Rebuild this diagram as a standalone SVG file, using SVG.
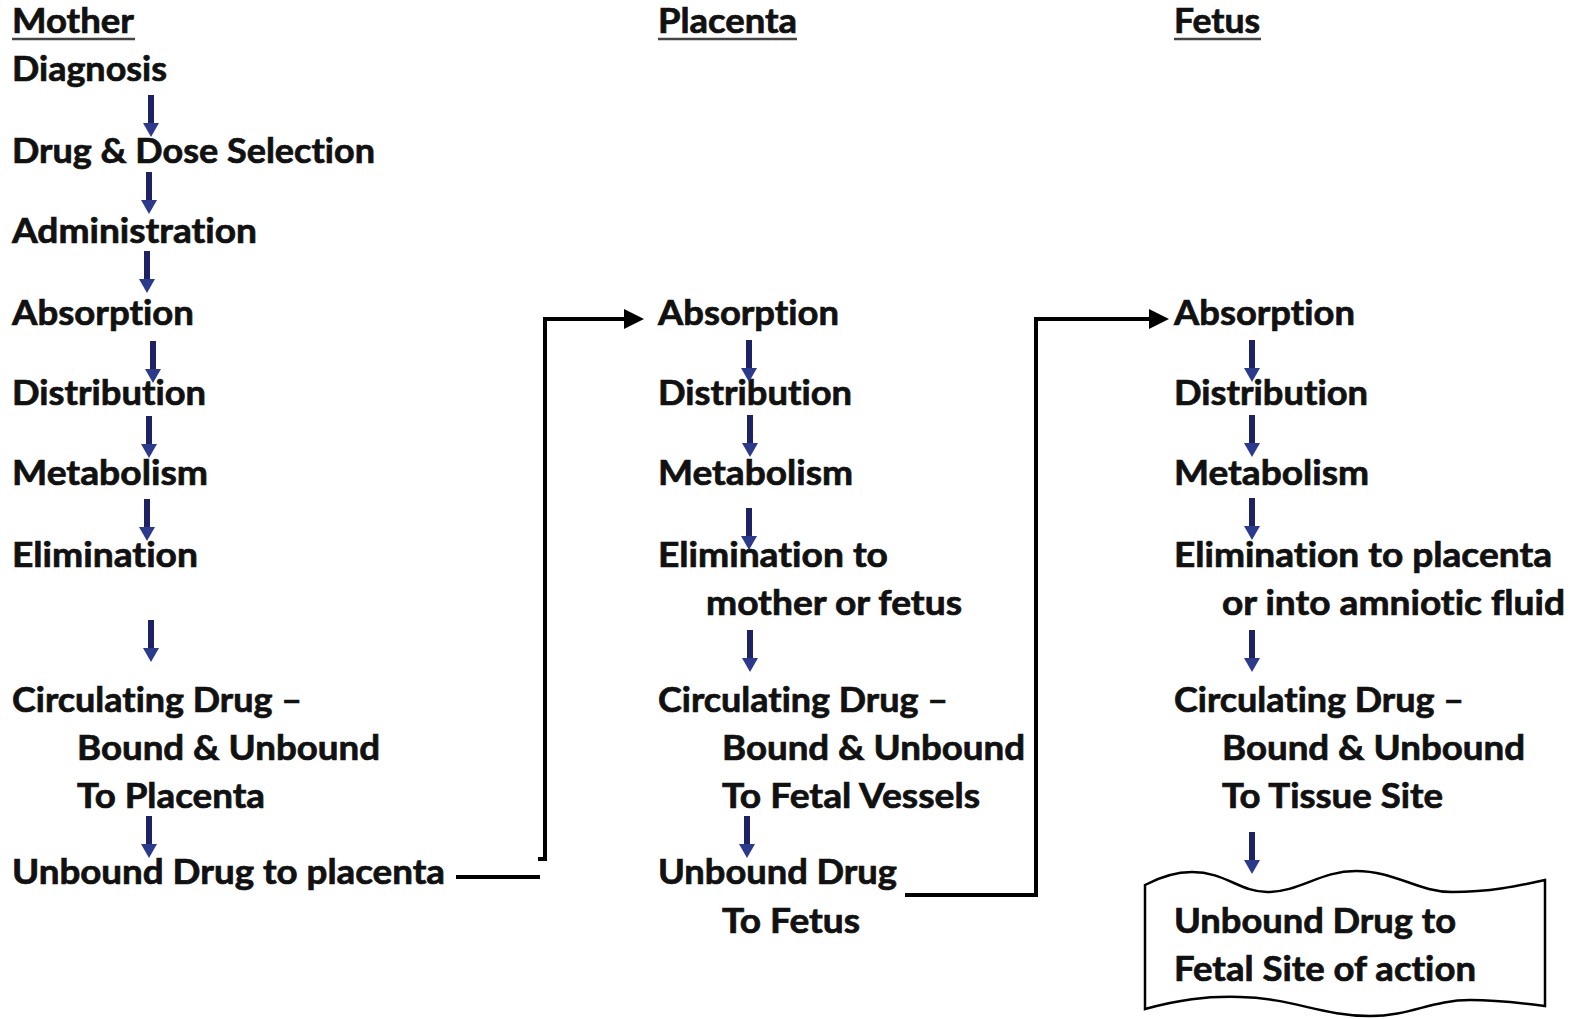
<svg xmlns="http://www.w3.org/2000/svg" xmlns:xlink="http://www.w3.org/1999/xlink" width="1575" height="1019" viewBox="0 0 1575 1019">
<style>
text{font-family:Lato,"Open Sans","Liberation Sans",sans-serif;font-weight:700;font-size:34px;fill:#111;stroke:#111;stroke-width:0.7;font-variant-ligatures:none;font-feature-settings:"liga" 0,"clig" 0}
.ul{stroke:#444;stroke-width:2.5}
.conn{fill:none;stroke:#000;stroke-width:4}
</style>
<defs>
<g id="darr">
<rect x="-3" y="0" width="6" height="30" fill="#1c2262"/>
<polygon points="-8,28 8,28 0,42" fill="#2c3a8e"/>
</g>
<marker id="ah" markerWidth="5" markerHeight="5" refX="0.5" refY="2.5" orient="auto" markerUnits="strokeWidth" viewBox="0 0 5 5">
<polygon points="0,0 5,2.5 0,5" fill="#000"/>
</marker>
</defs>
<rect width="1575" height="1019" fill="#fff"/>

<g id="mother">
<text x="12" y="33" textLength="122" lengthAdjust="spacingAndGlyphs">Mother</text>
<line class="ul" x1="12" y1="39" x2="135" y2="39"/>
<text x="12" y="81" textLength="155" lengthAdjust="spacingAndGlyphs">Diagnosis</text>
<text x="12" y="163" textLength="363" lengthAdjust="spacingAndGlyphs">Drug &amp; Dose Selection</text>
<text x="12" y="243" textLength="245" lengthAdjust="spacingAndGlyphs">Administration</text>
<text x="12" y="325" textLength="182" lengthAdjust="spacingAndGlyphs">Absorption</text>
<text x="12" y="405" textLength="194" lengthAdjust="spacingAndGlyphs">Distribution</text>
<text x="12" y="485" textLength="196" lengthAdjust="spacingAndGlyphs">Metabolism</text>
<text x="12" y="567" textLength="186" lengthAdjust="spacingAndGlyphs">Elimination</text>
<text x="12" y="712" textLength="290" lengthAdjust="spacingAndGlyphs">Circulating Drug –</text>
<text x="77" y="760" textLength="303" lengthAdjust="spacingAndGlyphs">Bound &amp; Unbound</text>
<text x="77" y="808" textLength="188" lengthAdjust="spacingAndGlyphs">To Placenta</text>
<text x="12" y="884" textLength="433" lengthAdjust="spacingAndGlyphs">Unbound Drug to placenta</text>
</g>

<g id="placenta">
<text x="658" y="33" textLength="139" lengthAdjust="spacingAndGlyphs">Placenta</text>
<line class="ul" x1="658" y1="39" x2="797" y2="39"/>
<text x="658" y="325" textLength="181" lengthAdjust="spacingAndGlyphs">Absorption</text>
<text x="658" y="405" textLength="194" lengthAdjust="spacingAndGlyphs">Distribution</text>
<text x="658" y="485" textLength="195" lengthAdjust="spacingAndGlyphs">Metabolism</text>
<text x="658" y="567" textLength="230" lengthAdjust="spacingAndGlyphs">Elimination to</text>
<text x="706" y="615" textLength="256" lengthAdjust="spacingAndGlyphs">mother or fetus</text>
<text x="658" y="712" textLength="290" lengthAdjust="spacingAndGlyphs">Circulating Drug –</text>
<text x="722" y="760" textLength="303" lengthAdjust="spacingAndGlyphs">Bound &amp; Unbound</text>
<text x="722" y="808" textLength="258" lengthAdjust="spacingAndGlyphs">To Fetal Vessels</text>
<text x="658" y="884" textLength="239" lengthAdjust="spacingAndGlyphs">Unbound Drug</text>
<text x="722" y="933" textLength="138" lengthAdjust="spacingAndGlyphs">To Fetus</text>
</g>

<g id="fetus">
<text x="1174" y="33" textLength="86" lengthAdjust="spacingAndGlyphs">Fetus</text>
<line class="ul" x1="1174" y1="39" x2="1261" y2="39"/>
<text x="1174" y="325" textLength="181" lengthAdjust="spacingAndGlyphs">Absorption</text>
<text x="1174" y="405" textLength="194" lengthAdjust="spacingAndGlyphs">Distribution</text>
<text x="1174" y="485" textLength="195" lengthAdjust="spacingAndGlyphs">Metabolism</text>
<text x="1174" y="567" textLength="378" lengthAdjust="spacingAndGlyphs">Elimination to placenta</text>
<text x="1222" y="615" textLength="343" lengthAdjust="spacingAndGlyphs">or into amniotic fluid</text>
<text x="1174" y="712" textLength="290" lengthAdjust="spacingAndGlyphs">Circulating Drug –</text>
<text x="1222" y="760" textLength="303" lengthAdjust="spacingAndGlyphs">Bound &amp; Unbound</text>
<text x="1222" y="808" textLength="221" lengthAdjust="spacingAndGlyphs">To Tissue Site</text>
</g>

<g id="site-of-action">
<path d="M1145,885 C1160,877 1175,872 1192,872 C1225,872 1240,892 1267,892 C1300,892 1320,871 1356,871 C1395,871 1418,892 1452,892 C1490,892 1518,886 1545,880 L1545,1006 C1522,1003 1500,1000 1470,1000 C1432,1000 1410,1016 1370,1016 C1322,1016 1292,998 1240,997 C1205,996 1178,1000 1145,1009 Z" fill="#fff" stroke="#000" stroke-width="2.5"/>
<text x="1174" y="933" textLength="282" lengthAdjust="spacingAndGlyphs">Unbound Drug to</text>
<text x="1174" y="981" textLength="302" lengthAdjust="spacingAndGlyphs">Fetal Site of action</text>
</g>

<g id="connectors">
<use xlink:href="#darr" x="151" y="95"/>
<use xlink:href="#darr" x="149" y="172"/>
<use xlink:href="#darr" x="147" y="251"/>
<use xlink:href="#darr" x="153" y="341"/>
<use xlink:href="#darr" x="149" y="416"/>
<use xlink:href="#darr" x="147" y="499"/>
<use xlink:href="#darr" x="151" y="620"/>
<use xlink:href="#darr" x="149" y="816"/>

<use xlink:href="#darr" x="749" y="340"/>
<use xlink:href="#darr" x="750" y="415"/>
<use xlink:href="#darr" x="749" y="508"/>
<use xlink:href="#darr" x="750" y="630"/>
<use xlink:href="#darr" x="747" y="816"/>

<use xlink:href="#darr" x="1252" y="340"/>
<use xlink:href="#darr" x="1252" y="415"/>
<use xlink:href="#darr" x="1252" y="498"/>
<use xlink:href="#darr" x="1252" y="630"/>
<use xlink:href="#darr" x="1252" y="832"/>

<line class="conn" x1="456" y1="877" x2="540" y2="877"/>
<polyline class="conn" points="538,859 545,859 545,319 626,319" marker-end="url(#ah)"/>
<polyline class="conn" points="905,895 1036,895 1036,319 1151,319" marker-end="url(#ah)"/>
</g>
</svg>
